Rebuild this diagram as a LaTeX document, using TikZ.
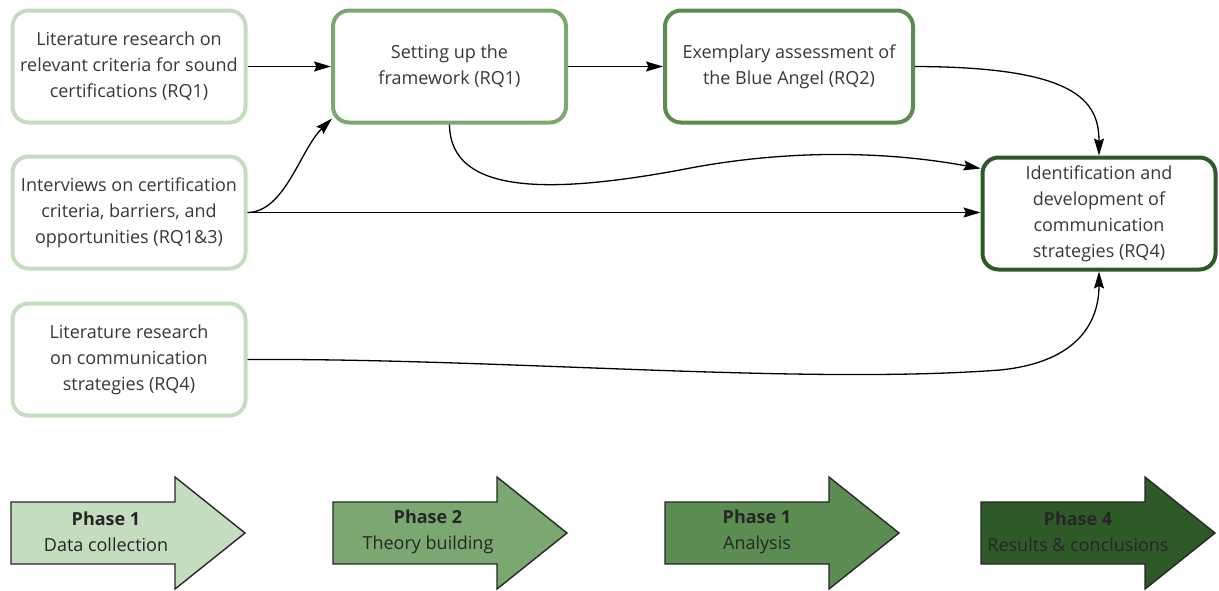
\documentclass[tikz,border=0pt]{standalone}
\usepackage{fontspec}
\setmainfont{Open Sans}
\usetikzlibrary{arrows.meta,calc}
\definecolor{gLight}{HTML}{C4DDBE}
\definecolor{gMid}{HTML}{7BA870}
\definecolor{gDeep}{HTML}{5B8C52}
\definecolor{gDark}{HTML}{2E5A28}
\definecolor{txt}{HTML}{383838}
\begin{document}
\begin{tikzpicture}[x=1pt,y=-1pt,
  box/.style={draw, line width=4pt, rounded corners=16pt, fill=white,
    minimum width=#1, minimum height=112pt, align=center, text=txt,
    font=\fontsize{18}{26}\selectfont, inner sep=0pt},
  box/.default=233pt,
  link/.style={line width=1.3pt, draw=black, -{Stealth[length=17pt,width=10pt,inset=2.5pt]}},
  phase/.style={draw=black!85, line width=1.4pt, fill=#1},
  phasetext/.style={align=center, text=black!85, font=\fontsize{18}{26}\selectfont, inner sep=0pt}]
\useasboundingbox (0,0) rectangle (1219,590);

% research activities, light boxes on the left
\node[box, draw=gLight] (A) at (129,66.5) {Literature research on\\relevant criteria for sound\\certifications (RQ1)};
\node[box, draw=gLight] (B) at (129,212.5) {Interviews on certification\\criteria, barriers, and\\opportunities (RQ1\&3)};
\node[box, draw=gLight] (C) at (129,359.5) {Literature research\\on communication\\strategies (RQ4)};

% framework, assessment and strategy boxes
\node[box, draw=gMid] (D) at (449.5,66.5) {Setting up the\\framework (RQ1)};
\node[box=248pt, draw=gDeep] (E) at (789,66.5) {Exemplary assessment of\\the Blue Angel (RQ2)};
\node[box, draw=gDark] (F) at (1099,213.5) {Identification and\\development of\\communication\\strategies (RQ4)};

% connectors
\draw[link] (A.east) -- (A.east -| D.west);
\draw[link] (D.east) -- (D.east -| E.west);
\draw[link] (E.east) .. controls (1075,67) and (1099,100) .. (F.north);
\draw[link] (D.south) .. controls (450,198) and (560,192) .. (680,170)
  .. controls (780,150) and (880,150) .. ($(F.north west)+(0,13)$);
\draw[link] (B.east) .. controls (285,212) and (300,150) .. ($(D.south west)+(1,-6)$);
\draw[link] (B.east) -- (B.east -| F.west);
\draw[link] (C.east) .. controls (500,358) and (800,385) .. (1000,370)
  .. controls (1080,362) and (1099,320) .. (F.south);

% phase arrows along the bottom
\coordinate (p1) at (11,0);
\coordinate (p2) at (333,0);
\coordinate (p3) at (665,0);
\coordinate (p4) at (981,0);
\foreach \p/\c in {p1/gLight,p2/gMid,p3/gDeep,p4/gDark}{
  \draw[phase=\c] ($(\p)+(0,502)$) -- ++(164,0) -- ++(0,-25) -- ++(70,56)
    -- ++(-70,56) -- ++(0,-25) -- ++(-164,0) -- cycle;
}
\node[phasetext] (t1) at (106,532) {\textbf{Phase 1}\\Data collection};
\node[phasetext] (t2) at (428,532) {\textbf{Phase 2}\\Theory building};
\node[phasetext] (t3) at (757,532) {\textbf{Phase 1}\\Analysis};
\node[phasetext] (t4) at (1078,532) {\textbf{Phase 4}\\Results \& conclusions};
\end{tikzpicture}
\end{document}
